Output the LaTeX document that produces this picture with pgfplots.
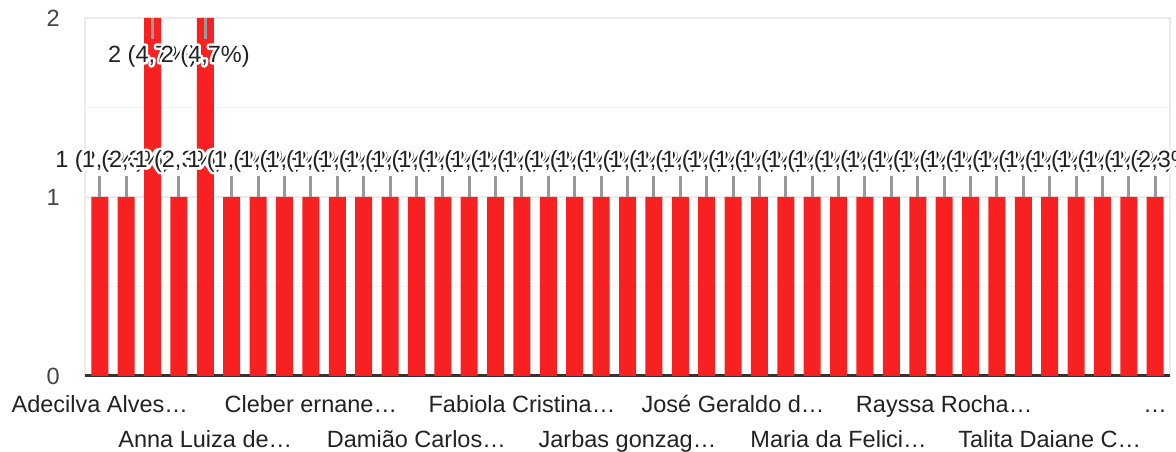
\documentclass[border=0pt]{standalone}
\usepackage{fontspec}
\setmainfont{Liberation Sans}
\usepackage{pgfplots}
\usepackage{pgfplotstable}
\pgfplotsset{compat=1.18}

\definecolor{barred}{RGB}{248,33,33}
\definecolor{stemgray}{RGB}{153,153,153}
\definecolor{gridgray}{RGB}{235,235,235}
\definecolor{minorgray}{RGB}{244,244,244}
\definecolor{basegray}{RGB}{51,51,51}
\definecolor{textdark}{RGB}{34,34,34}
\definecolor{ticktext}{RGB}{68,68,68}

% white outline behind the annotation text
\newcommand\halo[1]{\leavevmode\rlap{\special{pdf:literal direct 1 1 1 RG 5 w 1 j 1 Tr}#1\special{pdf:literal direct 0 Tr}}#1}

\pgfplotstableread{
x y p
0 1 2,3
1 1 2,3
2 2 4,7
3 1 2,3
4 2 4,7
5 1 2,3
6 1 2,3
7 1 2,3
8 1 2,3
9 1 2,3
10 1 2,3
11 1 2,3
12 1 2,3
13 1 2,3
14 1 2,3
15 1 2,3
16 1 2,3
17 1 2,3
18 1 2,3
19 1 2,3
20 1 2,3
21 1 2,3
22 1 2,3
23 1 2,3
24 1 2,3
25 1 2,3
26 1 2,3
27 1 2,3
28 1 2,3
29 1 2,3
30 1 2,3
31 1 2,3
32 1 2,3
33 1 2,3
34 1 2,3
35 1 2,3
36 1 2,3
37 1 2,3
38 1 2,3
39 1 2,3
40 1 2,3
}\answers

\pgfplotsset{
  annot/.style={only marks, mark=none,
    point meta=explicit symbolic,
    unbounded coords=discard,
    error bars/y dir=#1,
    error bars/y fixed=0.12,
    error bars/error mark=none,
    error bars/error bar style={draw=stemgray, line width=3pt},
  },
}

\begin{document}
\begin{tikzpicture}
\begin{axis}[
scale only axis,
width=1085pt, height=358pt,
xmin=-0.56, xmax=40.56,
ymin=0, ymax=2,
clip=false,
axis line style={draw=gridgray, line width=1.5pt},
major tick length=0pt, minor tick length=0pt,
xtick={0,8,16,24,32,40},
xticklabels={Adecilva Alves…,Cleber ernane…,Fabiola Cristina…,José Geraldo d…,Rayssa Rocha…,…},
extra x ticks={4,12,20,28,36},
extra x tick labels={Anna Luiza de…,Damião Carlos…,Jarbas gonzag…,Maria da Felici…,Talita Daiane C…},
extra x tick style={xticklabel style={yshift=-35pt}},
xticklabel style={anchor=base, inner sep=0pt, yshift=-37pt, text=textdark, font=\fontsize{23.5}{28}\selectfont},
ytick={1,2},
minor ytick={0.5,1.5},
extra y ticks={0},
extra y tick style={ymajorgrids=true, major grid style={draw=basegray, line width=3pt}},
yticklabel style={anchor=east, inner sep=0pt, xshift=-25pt, text=ticktext, font=\fontsize{23.5}{28}\selectfont},
/pgf/number format/assume math mode=true,
ymajorgrids, yminorgrids,
major grid style={draw=gridgray, line width=1.5pt},
minor grid style={draw=minorgray, line width=1.5pt},
]
\addplot[ybar, bar width=17pt, bar shift=0pt, fill=barred, draw=none] table[x=x, y=y] {\answers};
% annotations of the bars with one answer
\addplot[annot=plus,
  y filter/.expression={y==1 ? y : nan},
  nodes near coords={\halo{1 (\pgfplotspointmeta\%)}},
  every node near coord/.append style={anchor=center, yshift=36pt, text=textdark, inner sep=0pt, font=\fontsize{23.5}{28}\selectfont},
  ]
  table[x=x, y=y, meta=p] {\answers};
% annotations of the bars with two answers
\addplot[annot=minus,
  y filter/.expression={y==2 ? y : nan},
  nodes near coords={\halo{2 (\pgfplotspointmeta\%)}},
  every node near coord/.append style={anchor=center, yshift=-38pt, text=textdark, inner sep=0pt, font=\fontsize{23.5}{28}\selectfont},
  ]
  table[x=x, y=y, meta=p] {\answers};
\end{axis}
\pgfresetboundingbox
\path ([shift={(-85pt,-76pt)}]current axis.south west) rectangle ([shift={(6pt,18pt)}]current axis.north east);
\end{tikzpicture}
\end{document}
